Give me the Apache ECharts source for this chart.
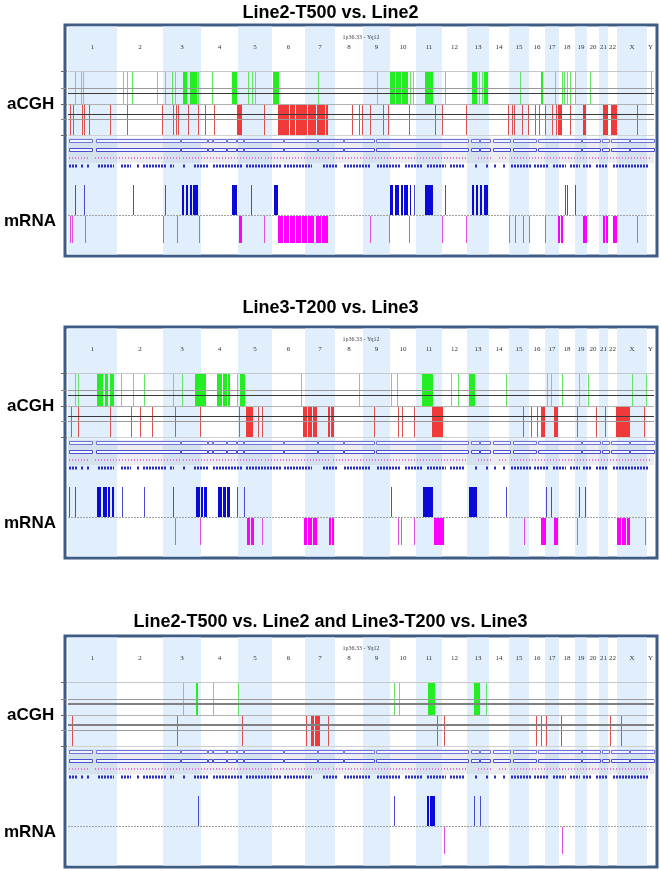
<!DOCTYPE html>
<html><head><meta charset="utf-8">
<script src="https://cdn.jsdelivr.net/npm/echarts@6/dist/echarts.min.js"></script>
<style>html,body{margin:0;padding:0;background:#fff}#c{width:661px;height:871px}</style>
</head><body><div id="c"></div>
<script>
// ---------- data ----------
const chromNames = ['1','2','3','4','5','6','7','8','9','10','11','12','13','14','15','16','17','18','19','20','21','22','X','Y'];
// chromosome boundaries along the genome axis (genome-index units)
const chromBounds = [68,117,163,201,238,272,305,335,363,390,416,442,467,489,509,529,545,559,575,587,599,608,617,647,654];
const panelTitles = ['Line2-T500 vs. Line2','Line3-T200 vs. Line3','Line2-T500 vs. Line2 and Line3-T200 vs. Line3'];
const trackLabels = ['aCGH','mRNA'];
const regionLabel = '1p36.33 - Yq12';
// cytoband segment boxes
const segBoxes = [[69,92],[96,180],[181,207],[208,212],[213,226],[227,236],[237,243],[244,283],[284,317],[318,343],[344,374],[376,468],[471,479],[480,490],[493,510],[513,536],[538,581],[582,600],[602,609],[611,629],[630,654]];
// probe clusters
const pinkProbes = [[69,90],[95,180],[183,262],[265,330],[333,468],[478,492],[499,506],[511,650]];
const blueProbes = [[69,78],[81,84],[87,90],[98,114],[121,131],[137,140],[143,166],[170,174],[183,186],[194,209],[213,243],[246,281],[284,312],[323,338],[344,370],[377,401],[405,422],[427,446],[450,465],[475,477],[486,488],[494,496],[503,505],[511,532],[534,549],[553,566],[570,580],[583,591],[596,608],[613,649]];

// Panel 1: Line2-T500 vs Line2
const p1Gain = [75,81,83,123,127,132,157,165,172,175,[183,187],[190,197],198,212,[232,237],248,252,255,[273,279],318,377,[390,395],[396,401],[402,408],410,413,[425,433],445,[472,477],479,482,[484,488],520,[541,543],555,562,564,567,570,575,590,651];
const p1Loss = [70,73,82,84,89,110,127,162,173,176,178,188,198,205,214,[237,242],264,[278,289],[290,295],[296,307],[308,316],[317,325],[326,328],352,359,362,370,383,388,409,435,442,466,508,512,514,522,528,535,539,545,552,556,[558,562],570,[583,586],[603,608],[611,617],637];
const p1Up = [75,84,133,165,[182,184],[186,188],[190,192],[193,198],[232,237],251,[274,278],[390,393],[395,399],[401,403],[404,408],[410,411],414,[425,433],445,[472,474],[476,478],[480,482],[484,488],565,567,575];
const p1Down = [70,72,85,163,177,199,[239,242],264,[278,283],[284,289],[290,295],[296,301],[302,307],[308,314],[316,321],[322,328],370,389,409,442,466,509,515,523,529,545,[558,560],[561,563],[583,587],[603,605],[606,608],[613,617],637];
// Panel 2: Line3-T200 vs Line3
const p2Gain = [75,78,[97,103],[105,108],[110,114],121,133,144,173,182,[195,206],[217,222],[223,227],[228,230],237,[240,245],301,359,391,397,[422,433],451,458,[469,475],506,547,551,562,579,588,632,646];
const p2Loss = [71,78,110,131,140,152,175,200,239,[246,253],258,262,[303,307],[308,312],[313,317],[328,330],[331,334],374,398,402,414,[432,443],523,531,537,[541,545],[554,558],577,596,605,[616,630],644];
const p2Up = [69,75,[97,101],[103,107],[108,110],[112,114],122,144,173,[196,200],[201,203],[204,207],[218,222],[223,226],[227,230],237,244,391,[423,433],[469,477],506,546,551,579,585];
const p2Down = [175,200,[247,250],[251,254],262,[304,307],[308,312],[313,317],[329,331],[332,334],398,401,414,[434,444],524,[541,546],[554,558],577,[617,621],[622,626],[627,630],645];
// Panel 3: shared events
const p3Gain = [183,[196,198],213,238,394,399,[428,435],[474,480],486];
const p3Loss = [72,177,242,306,[311,314],[315,320],328,437,444,536,541,546,[561,562],610,621];
const p3Up = [198,394,[427,429],[430,435],474,480];
const p3Down = [444,562];

const panels = [
  {gain:p1Gain, loss:p1Loss, up:p1Up, down:p1Down},
  {gain:p2Gain, loss:p2Loss, up:p2Up, down:p2Down},
  {gain:p3Gain, loss:p3Loss, up:p3Up, down:p3Down}
];

// ---------- layout ----------
const panelTop = [25, 327, 636];
const titleY = [13, 308, 622];
const PH = 231;
const L = {region:12, chrom:22, cghTop:46, cghMid:79, cghBot:110, box1:114, box2:123, pink:133, dash:141, mTop:160, mMid:190, mBot:218};

const chart = echarts.init(document.getElementById('c'), null, {renderer:'canvas'});
const grids=[], xAxes=[], yAxes=[], series=[], titles=[];

function evData(arr){ return arr.map(d => Array.isArray(d) ? [d[0], d[1], 1] : [d, d, 0]); }
function evSeries(gi, arr, y0, y1, strong, light){
  return {type:'custom', xAxisIndex:gi, yAxisIndex:gi, silent:true, animation:false, data: evData(arr),
    renderItem:(p, api)=>{
      const a=api.value(0), b=api.value(1), blk=api.value(2);
      const p0=api.coord([a,y0]), p1=api.coord([b,y1]);
      const w = blk ? Math.max(1, p1[0]-p0[0]) : 1;
      return {type:'rect', shape:{x:Math.round(p0[0]), y:p0[1], width:w, height:p1[1]-p0[1]}, style:{fill: blk?strong:light}};
    }};
}
function hlineSeries(gi, lines){
  return {type:'custom', xAxisIndex:gi, yAxisIndex:gi, silent:true, animation:false, data: lines,
    renderItem:(p, api)=>{
      const d = lines[p.dataIndex];
      const a=api.coord([d[2], d[0]]), b=api.coord([d[3], d[0]]);
      const off = (d[4]||1) % 2 ? 0.5 : 0;
      return {type:'line', shape:{x1:a[0], y1:Math.round(a[1])+off, x2:b[0], y2:Math.round(b[1])+off}, style:{stroke:d[1], lineWidth:d[4]||1, lineDash:d[5]||null}};
    }};
}

panelTop.forEach((T, gi)=>{
  grids.push({left:65, width:592, top:T, height:PH, show:true, borderColor:'#3f5c84', borderWidth:3, backgroundColor:'#fff'});
  xAxes.push({type:'value', gridIndex:gi, min:65, max:657, show:false});
  yAxes.push({type:'value', gridIndex:gi, min:0, max:PH, inverse:true, show:false});
  titles.push({text:panelTitles[gi], left:'center', top:titleY[gi]-9, padding:0, textStyle:{fontFamily:'Liberation Sans, Arial', fontWeight:'bold', fontSize:18, color:'#000'}});
  titles.push({text:trackLabels[0], left:7, top:T+L.cghMid-8, padding:0, textStyle:{fontFamily:'Liberation Sans, Arial', fontWeight:'bold', fontSize:17, color:'#000'}});
  titles.push({text:trackLabels[1], left:4, top:T+195-7, padding:0, textStyle:{fontFamily:'Liberation Sans, Arial', fontWeight:'bold', fontSize:17, color:'#000'}});

  // chromosome bands
  series.push({type:'custom', xAxisIndex:gi, yAxisIndex:gi, silent:true, animation:false,
    data: chromNames.map((n,i)=>[chromBounds[i], chromBounds[i+1], i]),
    renderItem:(p, api)=>{
      const i=api.value(2);
      const a=api.coord([api.value(0), 1.5]), b=api.coord([api.value(1), PH-1.5]);
      return {type:'rect', shape:{x:a[0], y:a[1], width:b[0]-a[0], height:b[1]-a[1]}, style:{fill: i%2===0 ? '#e1effc' : 'rgba(0,0,0,0)'}};
    }});
  // light gray probe background
  series.push({type:'custom', xAxisIndex:gi, yAxisIndex:gi, silent:true, animation:false,
    data:[[chromBounds[0], chromBounds[chromBounds.length-1]]],
    renderItem:(p, api)=>{
      const a=api.coord([api.value(0), L.box1-1]), b=api.coord([api.value(1), L.dash-3]);
      return {type:'rect', shape:{x:a[0], y:a[1], width:b[0]-a[0], height:b[1]-a[1]}, style:{fill:'rgba(185,185,195,0.25)'}};
    }});
  // chromosome labels
  series.push({type:'custom', xAxisIndex:gi, yAxisIndex:gi, silent:true, animation:false,
    data: chromNames.map((n,i)=>[(chromBounds[i]+chromBounds[i+1])/2, i]),
    renderItem:(p, api)=>{
      const c=api.coord([api.value(0), L.chrom]);
      return {type:'text', style:{x:c[0], y:c[1], text:chromNames[api.value(1)], fill:'#333', font:'7px "Liberation Serif"', align:'center', verticalAlign:'middle'}};
    }});
  series.push({type:'custom', xAxisIndex:gi, yAxisIndex:gi, silent:true, animation:false,
    data:[[(chromBounds[0]+chromBounds[chromBounds.length-1])/2]],
    renderItem:(p, api)=>{
      const c=api.coord([api.value(0), L.region]);
      return {type:'text', style:{x:c[0], y:c[1], text:regionLabel, fill:'#444', font:'6px "Liberation Serif"', align:'center', verticalAlign:'middle'}};
    }});

  const pd = panels[gi];
  series.push(evSeries(gi, pd.gain, L.cghTop+1, L.cghMid, '#22ee22', '#66e466'));
  series.push(evSeries(gi, pd.loss, L.cghMid+1, L.cghBot, '#f03a3a', '#dc5050'));
  series.push(evSeries(gi, pd.up, L.mTop, L.mMid, '#0a0ad8', '#4a4ad2'));
  series.push(evSeries(gi, pd.down, L.mMid+1, L.mBot, '#ff00ff', '#e050e0'));

  const x0=chromBounds[0], x1=chromBounds[chromBounds.length-1];
  const darkW = gi===2 ? 2 : 1;
  const darkC = gi===2 ? '#808080' : '#3a3a3a';
  series.push(hlineSeries(gi, [
    [L.cghTop, '#c4c8cc', x0, x1, 1],
    [L.cghTop+17, '#9a9a9a', x0, x1, 1],
    [L.cghTop+22, darkC, x0, x1, darkW],
    [L.cghMid, '#b0b0b0', x0, x1, 1],
    [L.cghMid+10, darkC, x0, x1, darkW],
    [L.cghMid+15, '#9a9a9a', x0, x1, 1],
    [L.cghBot, '#d0d0d0', x0, x1, 1],
    [L.mMid, '#a0a0a0', x0, x1, 1, [2,1]],
    [L.cghTop, '#666', 61, 67, 1],
    [L.cghTop+17, '#888', 61, 67, 1],
    [L.cghMid, '#666', 61, 67, 1],
    [L.cghMid+15, '#888', 61, 67, 1],
    [L.cghBot, '#666', 61, 67, 1]
  ]));
  // segment boxes (two rows)
  [L.box1, L.box2].forEach((yb, r)=>{
    series.push({type:'custom', xAxisIndex:gi, yAxisIndex:gi, silent:true, animation:false,
      data: segBoxes.map(s=>[s[0], s[1]]),
      renderItem:(p, api)=>{
        const a=api.coord([api.value(0), yb]), b=api.coord([api.value(1), yb+4]);
        return {type:'rect', shape:{x:Math.round(a[0])+0.5, y:Math.round(a[1])+0.5, width:Math.round(b[0]-a[0]), height:3}, style:{fill:'#f4f6ff', stroke: r===0 ? '#6f72d8' : '#4a4ed2', lineWidth:1}};
      }});
  });
  // probe rows
  series.push({type:'custom', xAxisIndex:gi, yAxisIndex:gi, silent:true, animation:false,
    data: pinkProbes.map(s=>[s[0], s[1]]),
    renderItem:(p, api)=>{
      const a=api.coord([api.value(0), L.pink]), b=api.coord([api.value(1), L.pink]);
      return {type:'line', shape:{x1:a[0], y1:a[1], x2:b[0], y2:b[1]}, style:{stroke:'#dc78e2', lineWidth:2, lineDash:[1,2]}};
    }});
  series.push({type:'custom', xAxisIndex:gi, yAxisIndex:gi, silent:true, animation:false,
    data: blueProbes.map(s=>[s[0], s[1]]),
    renderItem:(p, api)=>{
      const a=api.coord([Math.round(api.value(0)), L.dash]), b=api.coord([Math.round(api.value(1)), L.dash]);
      return {type:'line', shape:{x1:a[0], y1:a[1], x2:b[0], y2:b[1]}, style:{stroke:'#2a2ec0', lineWidth:3, lineDash:[2,1]}};
    }});
});

chart.setOption({animation:false, backgroundColor:'#fff', title:titles, grid:grids, xAxis:xAxes, yAxis:yAxes, series:series});
</script></body></html>
